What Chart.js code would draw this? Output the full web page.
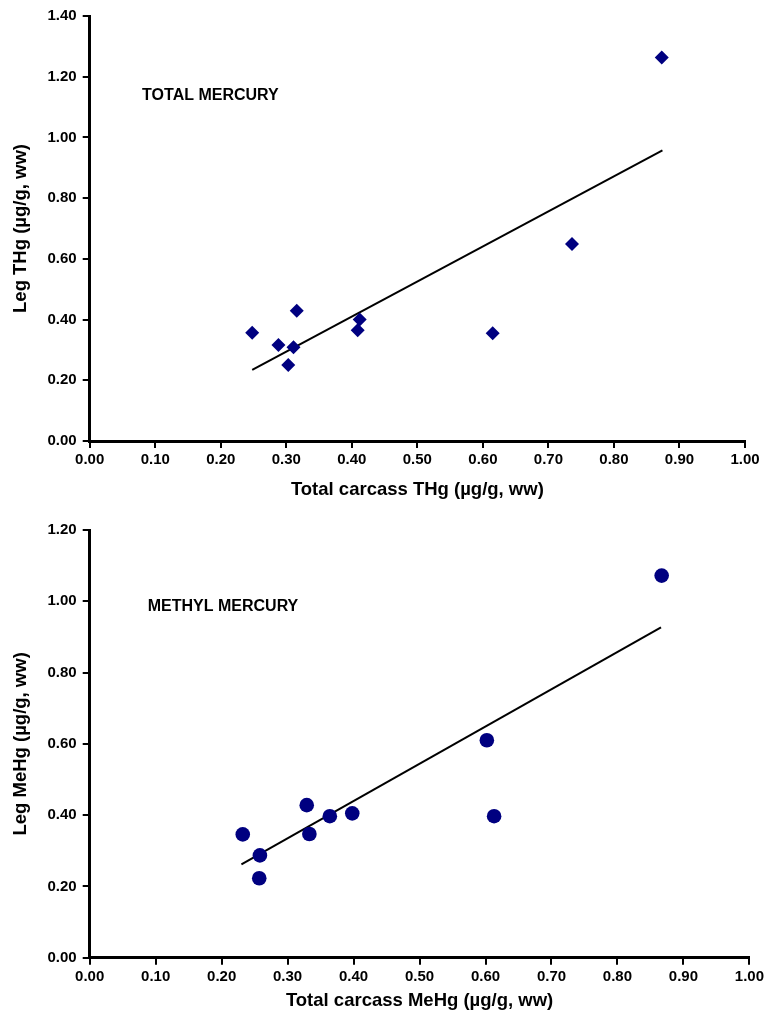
<!DOCTYPE html>
<html>
<head>
<meta charset="utf-8">
<script src="https://cdn.jsdelivr.net/npm/chart.js@4.4.1/dist/chart.umd.min.js"></script>
<style>
  html, body { margin: 0; padding: 0; background: #fff; }
  #wrap { position: relative; width: 767px; height: 1015px; }
  .box { position: absolute; left: 0; width: 767px; }
</style>
</head>
<body>
<div id="wrap">
  <div class="box" style="top:0; height:510px;"><canvas id="grafTotal"></canvas></div>
  <div class="box" style="top:510px; height:505px;"><canvas id="grafMetil"></canvas></div>
</div>
<script>
// dados
const thgCarcaca = [0.873, 0.736, 0.248, 0.316, 0.288, 0.311, 0.303, 0.412, 0.409, 0.615];
const thgPerna   = [1.263, 0.649, 0.357, 0.429, 0.316, 0.309, 0.250, 0.400, 0.365, 0.355];
const thgTendX = [0.248, 0.874];
const thgTendY = [0.234, 0.957];

const mehgCarcaca = [0.867, 0.602, 0.613, 0.232, 0.258, 0.257, 0.329, 0.333, 0.364, 0.398];
const mehgPerna   = [1.072, 0.610, 0.397, 0.346, 0.287, 0.223, 0.428, 0.347, 0.397, 0.405];
const mehgTendX = [0.230, 0.866];
const mehgTendY = [0.262, 0.927];

const ticksX = [0, 0.1, 0.2, 0.3, 0.4, 0.5, 0.6, 0.7, 0.8, 0.9, 1.0];
const ticksYTotal = [0, 0.2, 0.4, 0.6, 0.8, 1.0, 1.2, 1.4];
const ticksYMetil = [0, 0.2, 0.4, 0.6, 0.8, 1.0, 1.2];

const azul = '#000080';
const fonteTick = { family: 'Liberation Sans, Arial, sans-serif', size: 15, weight: 'bold' };
const fonteTitulo = { family: 'Liberation Sans, Arial, sans-serif', size: 18.5, weight: 'bold' };

function pares(xs, ys) {
    return xs.map((x, i) => ({ x: x, y: ys[i] }));
}

// escreve o rótulo dentro do gráfico
const rotuloInterno = {
    id: 'rotuloInterno',
    afterDraw(chart, args, opts) {
        const ctx = chart.ctx;
        ctx.save();
        ctx.font = 'bold 16px Liberation Sans, Arial, sans-serif';
        ctx.fillStyle = '#000';
        ctx.textBaseline = 'middle';
        ctx.fillText(opts.texto, chart.scales.x.getPixelForValue(opts.x), chart.scales.y.getPixelForValue(opts.y));
        ctx.restore();
    }
};

function criarGrafico(id, cfg) {
    const ctx = document.getElementById(id).getContext('2d');
    return new Chart(ctx, {
        type: 'scatter',
        data: {
            datasets: [
                {
                    data: pares(cfg.xs, cfg.ys),
                    pointStyle: cfg.estilo,
                    pointRadius: cfg.raio,
                    pointBackgroundColor: azul,
                    pointBorderColor: azul,
                    pointBorderWidth: 0
                },
                {
                    type: 'line',
                    data: pares(cfg.tendX, cfg.tendY),
                    borderColor: '#000',
                    borderWidth: 2,
                    pointRadius: 0,
                    fill: false
                }
            ]
        },
        plugins: [rotuloInterno],
        options: {
            responsive: true,
            maintainAspectRatio: false,
            animation: false,
            layout: { padding: { top: cfg.topo, right: cfg.direita, left: 0, bottom: 0 } },
            plugins: {
                legend: { display: false },
                tooltip: { enabled: false },
                rotuloInterno: cfg.rotulo
            },
            scales: {
                x: {
                    type: 'linear', min: 0, max: 1,
                    afterBuildTicks: s => { s.ticks = ticksX.map(v => ({ value: v })); },
                    afterFit: s => { s.height = cfg.alturaX; },
                    ticks: { color: '#000', font: fonteTick, padding: 3, callback: v => v.toFixed(2) },
                    grid: { drawOnChartArea: false, drawTicks: true, tickLength: 7, color: '#000', lineWidth: 2 },
                    border: { color: '#000', width: 3 },
                    title: { display: true, text: cfg.tituloX, color: '#000', font: fonteTitulo, padding: { top: 0, bottom: cfg.padTituloX } }
                },
                y: {
                    type: 'linear', min: 0, max: cfg.maxY,
                    afterBuildTicks: s => { s.ticks = cfg.ticksY.map(v => ({ value: v })); },
                    afterFit: s => { s.width = 89.7; },
                    ticks: { color: '#000', font: fonteTick, padding: 6, callback: v => v.toFixed(2) },
                    grid: { drawOnChartArea: false, drawTicks: true, tickLength: 7, color: '#000', lineWidth: 2 },
                    border: { color: '#000', width: 3 },
                    title: { display: true, text: cfg.tituloY, color: '#000', font: fonteTitulo, padding: { top: 9.4, bottom: 0 } }
                }
            }
        }
    });
}

criarGrafico('grafTotal', {
    xs: thgCarcaca, ys: thgPerna, tendX: thgTendX, tendY: thgTendY,
    estilo: 'rectRot', raio: 7, maxY: 1.4, ticksY: ticksYTotal,
    topo: 16, direita: 22, alturaX: 69, padTituloX: 9,
    tituloX: 'Total carcass THg (µg/g, ww)', tituloY: 'Leg THg (µg/g, ww)',
    rotulo: { texto: 'TOTAL MERCURY', x: 0.08, y: 1.139 }
});

criarGrafico('grafMetil', {
    xs: mehgCarcaca, ys: mehgPerna, tendX: mehgTendX, tendY: mehgTendY,
    estilo: 'circle', raio: 7.3, maxY: 1.2, ticksY: ticksYMetil,
    topo: 20, direita: 17, alturaX: 57.3, padTituloX: 3,
    tituloX: 'Total carcass MeHg (µg/g, ww)', tituloY: 'Leg MeHg (µg/g, ww)',
    rotulo: { texto: 'METHYL MERCURY', x: 0.088, y: 0.984 }
});
</script>
</body>
</html>
